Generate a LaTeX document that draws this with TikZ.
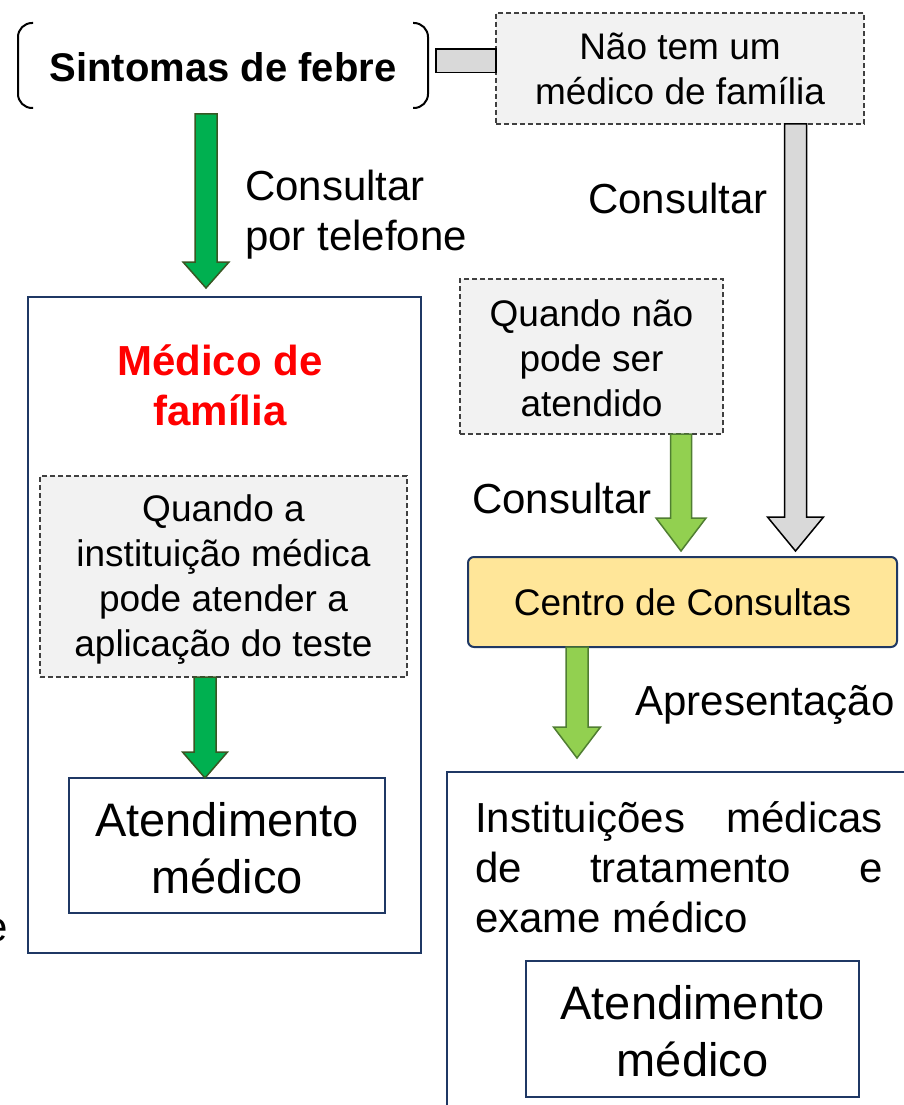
\documentclass[tikz,border=0pt]{standalone}
\usepackage{fontspec}
\setmainfont{Liberation Sans}
\usetikzlibrary{calc}
\definecolor{navyb}{HTML}{1F3864}
\definecolor{dgreen}{HTML}{00B050}
\definecolor{dgreenb}{HTML}{385723}
\definecolor{lgreen}{HTML}{92D050}
\definecolor{lgreenb}{HTML}{507E32}
\definecolor{lgray}{HTML}{D9D9D9}
\definecolor{boxgray}{HTML}{F2F2F2}
\definecolor{yel}{HTML}{FFE699}
\definecolor{dashc}{HTML}{404040}
\newcommand\vblock[6]{%
\path[#1] let \p1=(#2),\p2=(#3) in
 (\x1-#4pt,\y1) -- (\x1+#4pt,\y1) -- (\x1+#4pt,\y2+#6pt) -- (\x1+#5pt,\y2+#6pt)
 -- (\x1,\y2) -- (\x1-#5pt,\y2+#6pt) -- (\x1-#4pt,\y2+#6pt) -- cycle;}
\tikzset{
  every node/.style={inner sep=0pt, outer sep=0pt},
  dbox/.style={draw=dashc, fill=boxgray, line width=1.2pt, dash pattern=on 5pt off 3pt,
    align=center, font=\fontsize{37}{45}\selectfont},
  bluebox/.style={draw=navyb, line width=2pt},
  atbox/.style={draw=navyb, line width=1.5pt, align=center, font=\fontsize{47}{57}\selectfont},
  lbl/.style={font=\fontsize{42}{50}\selectfont, align=left},
  darrow/.style={fill=dgreen, draw=dgreenb, line width=1.5pt},
  larrow/.style={fill=lgreen, draw=lgreenb, line width=1.5pt},
  garrow/.style={fill=lgray, draw=black, line width=1.5pt},
}
\begin{document}
\begin{tikzpicture}[x=1pt,y=-1pt]
\useasboundingbox[fill=white] (0,0) rectangle (904,1105);
% top
\node[minimum width=410pt, minimum height=86pt] (sintbox) at (223,65) {};
\node[anchor=base, font=\fontsize{40}{48}\selectfont\bfseries] (sint) at (223,82) {Sintomas de febre};
\draw[line width=2pt, rounded corners=14pt] (33,23) -- (18,23) -- (18,108) -- (33,108);
\draw[line width=2pt, rounded corners=14pt] (413,23) -- (428,23) -- (428,108) -- (413,108);
\node[dbox, minimum width=368pt, minimum height=111pt] (nao) at (680,68.5) {Não tem um\\médico de família};
\path[garrow] ($(sintbox.east)+(8,-16)$) rectangle ($(nao.west)+(0,4)$);
% left column
\node[bluebox, minimum width=393pt, minimum height=656pt] (med) at (224.5,625) {};
\node[font=\fontsize{42}{50}\selectfont\bfseries, text=red, align=center] (medt) at (220,385) {Médico de\\família};
\node[dbox, minimum width=367pt, minimum height=201pt] (qa) at (223.5,576.5) {};
\node[font=\fontsize{37}{45}\selectfont, align=center] (qat) at (223.5,579.5)
  {Quando a\\instituição médica\\pode atender a\\aplicação do teste};
\node[atbox, minimum width=316pt, minimum height=135pt] (at1) at (227,845.5) {};
\node[font=\fontsize{47}{57}\selectfont, align=center] (at1t) at (227,848) {Atendimento\\médico};
\node[lbl, anchor=west] (l1) at (245,215) {Consultar\\por telefone};
\node[font=\fontsize{42}{50}\selectfont, anchor=base east] (ee) at (8,941) {e};
% right column
\node[lbl] (l2) at (678,198) {Consultar};
\node[dbox, minimum width=263pt, minimum height=155pt] (qn) at (591.5,356.5) {};
\node[font=\fontsize{37}{45}\selectfont, align=center] (qnt) at (591.5,358) {Quando não\\pode ser\\atendido};
\node[lbl] (l3) at (562,498) {Consultar};
\node[draw=navyb, line width=2pt, fill=yel, rounded corners=6pt, minimum width=429pt, minimum height=90pt,
  font=\fontsize{37}{45}\selectfont] (centro) at (682.5,602) {Centro de Consultas};
\node[lbl] (l4) at (765,705) {Apresentação};
\draw[bluebox] (447,1140) -- (447,772) -- (940,772);
\node[font=\fontsize{42}{50}\selectfont, anchor=base west] (it1) at (475,832) {\hbox to 408pt{Instituições\hfill médicas}};
\node[font=\fontsize{42}{50}\selectfont, anchor=base west] (it2) at (475,882) {\hbox to 408pt{de\hfill tratamento\hfill e}};
\node[font=\fontsize{42}{50}\selectfont, anchor=base west] (it3) at (475,932) {exame médico};
\node[atbox, minimum width=333pt, minimum height=136pt] (at2) at (692.5,1029) {};
\node[font=\fontsize{47}{57}\selectfont, align=center] (at2t) at (692.5,1031) {Atendimento\\médico};
% arrows
\coordinate (a1s) at (206,114); \coordinate (a1e) at (206,288);
\coordinate (a2s) at (205,677); \coordinate (a2e) at (205,778);
\coordinate (a3s) at (795.5,124); \coordinate (a3e) at (795.5,551);
\coordinate (a4s) at (681,434); \coordinate (a4e) at (681,551);
\coordinate (a5s) at (577,647); \coordinate (a5e) at (577,758);
\vblock{darrow}{a1s}{a1e}{11}{23}{26}
\vblock{darrow}{a2s}{a2e}{11}{22.5}{26}
\vblock{garrow}{a3s}{a3e}{11}{28}{34}
\vblock{larrow}{a4s}{a4e}{10.5}{25}{33}
\vblock{larrow}{a5s}{a5e}{11}{23.5}{31}
\end{tikzpicture}
\end{document}
